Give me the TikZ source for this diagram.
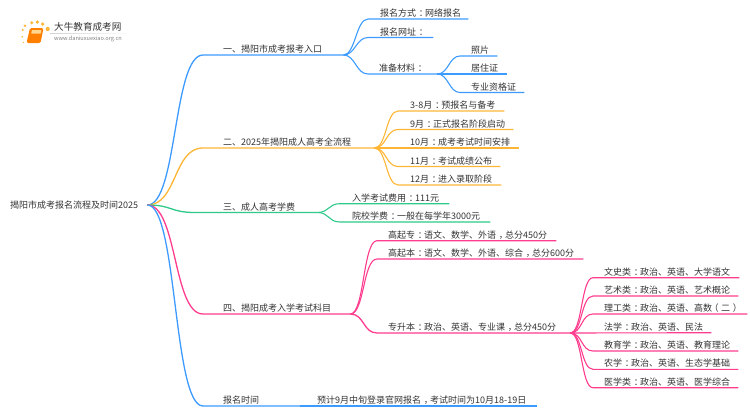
\documentclass[tikz,border=0pt]{standalone}
\usepackage{fontspec}
\setmainfont{Noto Sans CJK SC}
\definecolor{lineblue}{HTML}{3D9BFF}
\definecolor{lineorange}{HTML}{FDB535}
\definecolor{linegreen}{HTML}{2FC98A}
\definecolor{linepink}{HTML}{FF3C8E}
\definecolor{textgray}{HTML}{333333}
\newcommand{\fw}[1]{\hspace{.3em}#1\hspace{-.3em}}
\begin{document}
\begin{tikzpicture}[x=1pt,y=-1pt]
	\tikzstyle{item}=[anchor=south west,inner xsep=0pt,inner ysep=1.5pt,font=\fontsize{9}{10}\selectfont,text=textgray,align=left]
	\tikzstyle{stem}=[line width=1.3pt]
	\tikzstyle{twig}=[line width=1.1pt]
	\useasboundingbox (0,0) rectangle (750,410);
	% logo
	\foreach \dx/\dy/\dr in {22.3/36.7/.9,23.3/42.3/.7,22.7/30/1.1,25/25.7/1.3,31.7/22.7/1.6,37.3/22/1.8,42.7/24/1.8,47.7/29/2.1}
		\fill[lineorange] (\dx,\dy) circle (\dr);
	\fill[orange,rounded corners=1.5pt] (30,28) -- (43.5,28) -- (40.5,43) -- (26.5,43) -- cycle;
	\fill[lineorange!55,rounded corners=.5pt] (32,30) -- (41.5,30) -- (40.8,33.5) -- (31.2,33.5) -- cycle;
	\shade[left color=gray!35,right color=white] (50,33) rectangle (133,33.6);
	\node[anchor=west,inner sep=0pt,font=\fontsize{9.6}{10}\selectfont,text=textgray] (logotitle) at (54,27) {大牛教育成考网};
	\node[anchor=west,inner sep=0pt,font=\fontsize{5.6}{6}\selectfont,text=gray] (logourl) at (54,38.6) {www.daniuxuexiao.org.cn};
	% root
	\node[item,anchor=west,text width=137pt] (root) at (10,205) {揭阳市成考报名流程及时间2025};
	% first level
	\node[item,text width=120pt] (t1) at (223,55) {一、揭阳市成考报考入口};
	\node[item,text width=151pt] (t2) at (223,148) {二、2025年揭阳成人高考全流程};
	\node[item,text width=94pt] (t3) at (223,212.5) {三、成人高考学费};
	\node[item,text width=127pt] (t4) at (223,314) {四、揭阳成考入学考试科目};
	\node[item,text width=77pt] (t5) at (223,406) {报名时间};
	% entry
	\node[item,text width=88pt] (a1) at (380,19) {报名方式\fw{：}网络报名};
	\node[item,text width=53pt] (a2) at (380,37.5) {报名网址\fw{：}};
	\node[item,text width=58pt] (a3) at (379,74) {准备材料\fw{：}};
	\node[item,text width=26pt] (b1) at (471,56) {照片};
	\node[item,text width=36pt] (b2) at (471,74) {居住证};
	\node[item,text width=53pt] (b3) at (471,92.5) {专业资格证};
	% process
	\node[item,text width=94pt] (c1) at (410,111) {3-8月\fw{：}预报名与备考};
	\node[item,text width=103pt] (c2) at (410,129.5) {9月\fw{：}正式报名阶段启动};
	\node[item,text width=109pt] (c3) at (410,148) {10月\fw{：}成考考试时间安排};
	\node[item,text width=90pt] (c4) at (410,166.5) {11月\fw{：}考试成绩公布};
	\node[item,text width=91pt] (c5) at (410,185) {12月\fw{：}进入录取阶段};
	% fees
	\node[item,text width=97pt] (d1) at (352,203.7) {入学考试费用\fw{：}111元};
	\node[item,text width=138pt] (d2) at (352,222) {院校学费\fw{：}一般在每学年3000元};
	% subjects
	\node[item,text width=168pt] (e1) at (388,240.7) {高起专\fw{：}语文、数学、外语\fw{，}总分450分};
	\node[item,text width=195pt] (e2) at (388,259) {高起本\fw{：}语文、数学、外语、综合\fw{，}总分600分};
	\node[item,text width=182pt] (e3) at (388,333) {专升本\fw{：}政治、英语、专业课\fw{，}总分450分};
	\node[item,text width=135pt] (f1) at (604,277.7) {文史类\fw{：}政治、英语、大学语文};
	\node[item,text width=134pt] (f2) at (604,296) {艺术类\fw{：}政治、英语、艺术概论};
	\node[item,text width=143pt] (f3) at (604,314) {理工类\fw{：}政治、英语、高数\hspace{-.3em}（\hspace{.3em}二\hspace{.3em}）};
	\node[item,text width=107pt] (f4) at (604,332.7) {法学\fw{：}政治、英语、民法};
	\node[item,text width=134pt] (f5) at (604,351) {教育学\fw{：}政治、英语、教育理论};
	\node[item,text width=134pt] (f6) at (604,369.3) {农学\fw{：}政治、英语、生态学基础};
	\node[item,text width=134pt] (f7) at (604,387.7) {医学类\fw{：}政治、英语、医学综合};
	% time
	\node[item,text width=220pt] (g1) at (317,406) {预计9月中旬登录官网报名\fw{，}考试时间为10月18-19日};
	% connectors
	\draw[stem,lineblue] (root.east) .. controls +(30,0) and +(-30,0) .. ([xshift=-20pt]t1.south west) -- (t1.south east);
	\draw[stem,lineorange] (root.east) .. controls +(30,0) and +(-30,0) .. ([xshift=-20pt]t2.south west) -- (t2.south east);
	\draw[stem,linegreen] (root.east) .. controls +(25,0) and +(-25,0) .. ([xshift=-28pt]t3.south west) -- (t3.south east);
	\draw[stem,linepink] (root.east) .. controls +(30,0) and +(-30,0) .. ([xshift=-20pt]t4.south west) -- (t4.south east);
	\draw[stem,lineblue] (root.east) .. controls +(30,0) and +(-30,0) .. ([xshift=-20pt]t5.south west) -- (t5.south east);
	\draw[twig,lineblue] (t1.south east) .. controls +(12,0) and +(-12,0) .. ([xshift=-12pt]a1.south west) -- (a1.south east);
	\draw[twig,lineblue] (t1.south east) .. controls +(12,0) and +(-12,0) .. ([xshift=-12pt]a2.south west) -- (a2.south east);
	\draw[twig,lineblue] (t1.south east) .. controls +(12,0) and +(-12,0) .. ([xshift=-11pt]a3.south west) -- (a3.south east);
	\draw[twig,lineblue] (a3.south east) .. controls +(11,0) and +(-11,0) .. ([xshift=-11pt]b1.south west) -- (b1.south east);
	\draw[twig,lineblue] (a3.south east) -- (b2.south east);
	\draw[twig,lineblue] (a3.south east) .. controls +(11,0) and +(-11,0) .. ([xshift=-11pt]b3.south west) -- (b3.south east);
	\draw[twig,lineorange] (t2.south east) .. controls +(12,0) and +(-12,0) .. ([xshift=-12pt]c1.south west) -- (c1.south east);
	\draw[twig,lineorange] (t2.south east) .. controls +(12,0) and +(-12,0) .. ([xshift=-12pt]c2.south west) -- (c2.south east);
	\draw[twig,lineorange] (t2.south east) -- (c3.south east);
	\draw[twig,lineorange] (t2.south east) .. controls +(12,0) and +(-12,0) .. ([xshift=-12pt]c4.south west) -- (c4.south east);
	\draw[twig,lineorange] (t2.south east) .. controls +(12,0) and +(-12,0) .. ([xshift=-12pt]c5.south west) -- (c5.south east);
	\draw[twig,linegreen] (t3.south east) .. controls +(12,0) and +(-12,0) .. ([xshift=-12pt]d1.south west) -- (d1.south east);
	\draw[twig,linegreen] (t3.south east) .. controls +(12,0) and +(-12,0) .. ([xshift=-12pt]d2.south west) -- (d2.south east);
	\draw[twig,linepink] (t4.south east) .. controls +(14,0) and +(-14,0) .. ([xshift=-11pt]e1.south west) -- (e1.south east);
	\draw[twig,linepink] (t4.south east) .. controls +(14,0) and +(-14,0) .. ([xshift=-11pt]e2.south west) -- (e2.south east);
	\draw[stem,linepink] (t4.south east) .. controls +(14,0) and +(-14,0) .. ([xshift=-11pt]e3.south west) -- (e3.south east);
	\draw[twig,linepink] (e3.south east) .. controls +(12,0) and +(-12,0) .. ([xshift=-11pt]f1.south west) -- (f1.south east);
	\draw[twig,linepink] (e3.south east) .. controls +(12,0) and +(-12,0) .. ([xshift=-11pt]f2.south west) -- (f2.south east);
	\draw[twig,linepink] (e3.south east) .. controls +(12,0) and +(-12,0) .. ([xshift=-11pt]f3.south west) -- (f3.south east);
	\draw[twig,linepink] (e3.south east) -- (f4.south east);
	\draw[twig,linepink] (e3.south east) .. controls +(12,0) and +(-12,0) .. ([xshift=-11pt]f5.south west) -- (f5.south east);
	\draw[twig,linepink] (e3.south east) .. controls +(12,0) and +(-12,0) .. ([xshift=-11pt]f6.south west) -- (f6.south east);
	\draw[twig,linepink] (e3.south east) .. controls +(12,0) and +(-12,0) .. ([xshift=-11pt]f7.south west) -- (f7.south east);
	\draw[twig,lineblue] (t5.south east) -- (g1.south east);
\end{tikzpicture}
\end{document}
